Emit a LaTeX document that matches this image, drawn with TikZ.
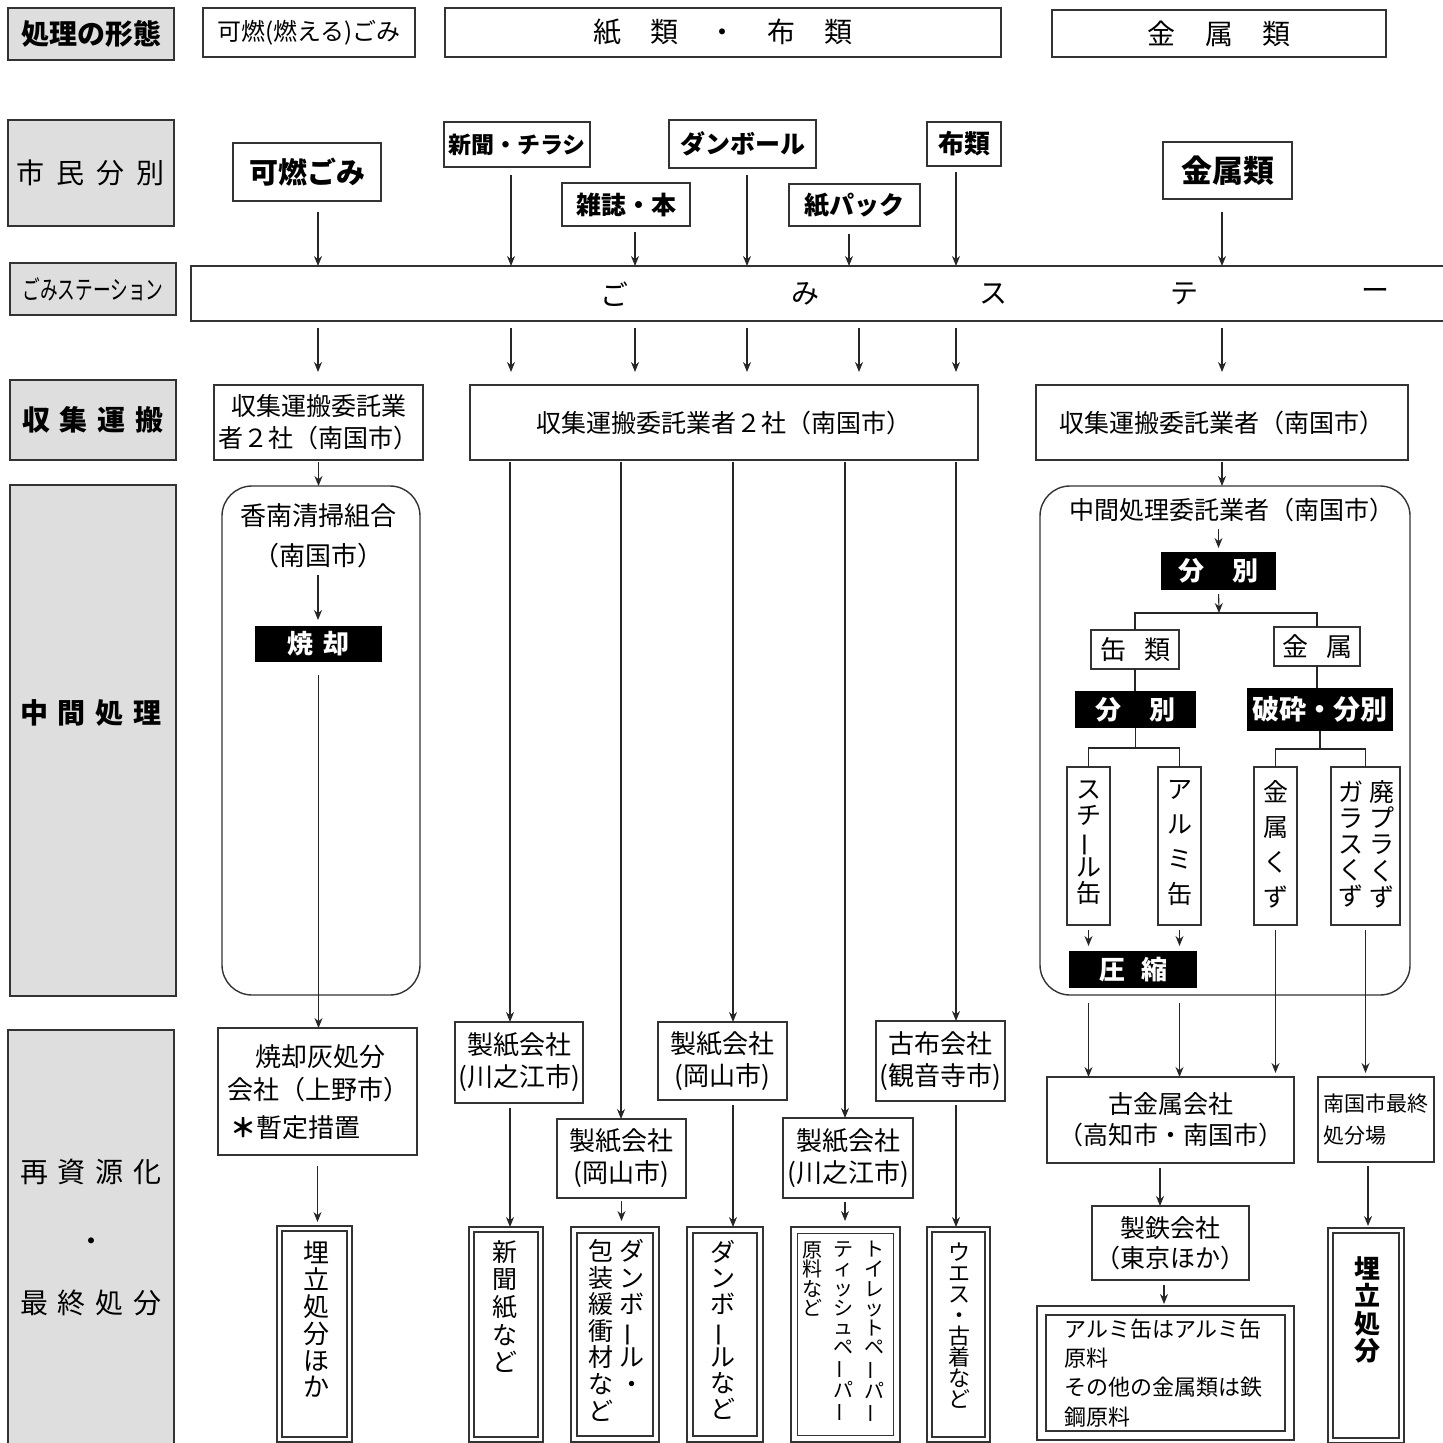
\documentclass[tikz,border=0pt]{standalone}
\usepackage{fontspec}
\usepackage{graphicx}
\setmainfont{Noto Sans CJK JP}
\usetikzlibrary{arrows.meta,calc}
\definecolor{hdrgray}{HTML}{DEDEDE}
\definecolor{edge}{HTML}{333333}
\newcommand\fz[2]{\fontsize{#1}{#2}\selectfont}
\newcommand\gp[1][0.4em]{\hspace{#1}}
\newcommand\vbar{\rotatebox[origin=c]{90}{ー}}
\newcommand\bx[7]{%
 \pgfmathsetmacro\bxw{((#4)-(#2))*0.5}%
 \pgfmathsetmacro\bxh{((#5)-(#3))*0.5}%
 \node[#6,minimum width=\bxw pt,minimum height=\bxh pt,inner sep=0pt,outer sep=0pt] (#1) at ({((#2)+(#4))/2},{((#3)+(#5))/2}) {#7};}
\newcommand\dbx[6]{%
 \bx{#1}{#2}{#3}{#4}{#5}{box}{}%
 \bx{#1i}{(#2)+(#6)}{(#3)+(#6)}{(#4)-(#6)}{(#5)-(#6)}{box}{}}
\begin{document}
\begin{tikzpicture}[x=0.5pt,y=-0.5pt,
  hdr/.style={draw=edge,fill=hdrgray,line width=0.8pt},
  box/.style={draw=edge,line width=0.7pt,align=center},
  blk/.style={fill=black,text=white,font=\fz{13}{15}\bfseries},
  arr/.style={draw=black!85,line width=0.55pt,-{Stealth[length=5pt,width=4pt]}},
  ln/.style={draw=black!85,line width=0.55pt},
  vt/.style={align=center,anchor=north,inner sep=0pt}]
\useasboundingbox (0,0) rectangle (1442,1443);
% ---------- header column ----------
\bx{h1}{8}{8}{174}{60}{hdr,font=\fz{14}{17}\bfseries}{処理の形態}
\bx{h2}{8}{120}{174}{226}{hdr,font=\fz{14}{17}}{市\gp[6pt]民\gp[6pt]分\gp[6pt]別}
\bx{h3}{10}{263}{176}{315}{hdr,font=\fz{13}{15}}{\scalebox{0.68}[1]{ごみステーション}}
\bx{h4}{10}{380}{176}{460}{hdr,font=\fz{14}{17}\bfseries}{収\gp[5pt]集\gp[5pt]運\gp[5pt]搬}
\bx{h5}{10}{485}{176}{996}{hdr}{}
\node[font=\fz{14}{17}\bfseries] (h5a) at (91,713) {中\gp[5pt]間\gp[5pt]処\gp[5pt]理};
\bx{h6}{8}{1030}{174}{1450}{hdr}{}
\node[font=\fz{14}{17}] (h6a) at (91,1172) {再\gp[5pt]資\gp[5pt]源\gp[5pt]化};
\node[font=\fz{14}{17}] (h6b) at (91,1245) {・};
\node[font=\fz{14}{17}] (h6c) at (91,1303) {最\gp[5pt]終\gp[5pt]処\gp[5pt]分};
% ---------- top row ----------
\bx{t1}{203}{8}{415}{57}{box,font=\fz{12}{14}}{可燃(燃える)ごみ}
\bx{t2}{445}{8}{1001}{57}{box,font=\fz{14}{17}}{紙\gp[15pt]類\gp[15pt]・\gp[15pt]布\gp[15pt]類}
\bx{t3}{1052}{10}{1386}{57}{box,font=\fz{14}{17}}{金\gp[15pt]属\gp[15pt]類}
% ---------- citizen sorting ----------
\bx{kanen}{233}{143}{381}{201}{box,font=\fz{14.5}{17}\bfseries}{可燃ごみ}
\bx{shinbun}{444}{122}{590}{167}{box,font=\fz{11.5}{14}\bfseries}{新聞・チラシ}
\bx{zasshi}{562}{183}{690}{226}{box,font=\fz{12.5}{15}\bfseries}{雑誌・本}
\bx{dan}{669}{120}{816}{168}{box,font=\fz{12.5}{15}\bfseries}{ダンボール}
\bx{pack}{789}{184}{920}{226}{box,font=\fz{12.5}{15}\bfseries}{紙パック}
\bx{nuno}{927}{122}{1001}{166}{box,font=\fz{13}{15}\bfseries}{布類}
\bx{kinz}{1163}{142}{1292}{199}{box,font=\fz{15.5}{18}\bfseries}{金属類}
% ---------- station ----------
\bx{st}{191}{266}{1470}{321}{box}{}
\node[font=\fz{14}{17}] (s1) at (614,294) {ご};
\node[font=\fz{14}{17}] (s2) at (805,294) {み};
\node[font=\fz{14}{17}] (s3) at (993,294) {ス};
\node[font=\fz{14}{17}] (s4) at (1184,294) {テ};
\node[font=\fz{14}{17}] (s5) at (1375,294) {ー};
\coordinate (xA) at (318,0);
\coordinate (xB) at (511,0);
\coordinate (xC) at (635,0);
\coordinate (xD) at (747,0);
\coordinate (xE) at (849,0);
\coordinate (xE2) at (859,0);
\coordinate (xF) at (956,0);
\coordinate (xG) at (1222,0);
\draw[arr,shorten <=5.5pt] (xA |- kanen.south) -- (xA |- st.north);
\draw[arr,shorten <=4pt] (xB |- shinbun.south) -- (xB |- st.north);
\draw[arr,shorten <=3pt] (xC |- zasshi.south) -- (xC |- st.north);
\draw[arr,shorten <=3.5pt] (xD |- dan.south) -- (xD |- st.north);
\draw[arr,shorten <=4pt] (xE |- pack.south) -- (xE |- st.north);
\draw[arr,shorten <=3pt] (xF |- nuno.south) -- (xF |- st.north);
\draw[arr,shorten <=6.5pt] (xG |- kinz.south) -- (xG |- st.north);
% ---------- collection ----------
\bx{col1}{214}{385}{423}{460}{box,font=\fz{12.5}{16}}{収集運搬委託業\\者２社（南国市）}
\bx{col2}{470}{385}{978}{460}{box,font=\fz{12.5}{16}}{収集運搬委託業者２社（南国市）}
\bx{col3}{1036}{385}{1408}{460}{box,font=\fz{12.5}{16}}{収集運搬委託業者（南国市）}
\draw[arr,shorten <=3.5pt,shorten >=6.5pt] (xA |- st.south) -- (xA |- col1.north);
\draw[arr,shorten <=3.5pt,shorten >=6.5pt] (xB |- st.south) -- (xB |- col2.north);
\draw[arr,shorten <=3.5pt,shorten >=6.5pt] (xC |- st.south) -- (xC |- col2.north);
\draw[arr,shorten <=3.5pt,shorten >=6.5pt] (xD |- st.south) -- (xD |- col2.north);
\draw[arr,shorten <=3.5pt,shorten >=6.5pt] (xE2 |- st.south) -- (xE2 |- col2.north);
\draw[arr,shorten <=3.5pt,shorten >=6.5pt] (xF |- st.south) -- (xF |- col2.north);
\draw[arr,shorten <=3.5pt,shorten >=6.5pt] (xG |- st.south) -- (xG |- col3.north);
% ---------- left: incineration ----------
\bx{kr}{222}{486}{420}{995}{box,rounded corners=15pt}{}
\node[font=\fz{13}{16}] (kr1) at (318,516) {香南清掃組合};
\node[font=\fz{13}{16}] (kr2) at (318,556) {（南国市）};
\draw[arr,shorten <=1pt] (col1.south) -- (col1.south |- kr.north);
\bx{yaki}{255}{626}{382}{662}{blk}{焼\gp[5pt]却}
\draw[arr,shorten >=3pt] (kr2.south) -- (kr2.south |- yaki.north);
\bx{hai}{218}{1028}{417}{1155}{box}{}
\node[font=\fz{13}{16}] (hai1) at (320,1057) {焼却灰処分};
\node[font=\fz{13}{16}] (hai2) at (318,1090) {会社（上野市）};
\node[font=\fz{13}{16},anchor=west,inner sep=0pt] (hai3) at (230,1128) {\textbf{＊}暫定措置};
\draw[arr,shorten <=6.5pt] (yaki.south) -- (yaki.south |- hai.north);
\dbx{ume1}{277}{1226}{352}{1442}{5}
\node[vt,font=\fz{13}{13.4}] (ume1t) at (316,1241) {埋\\立\\処\\分\\ほ\\か};
\draw[arr,shorten <=5.5pt,shorten >=2pt] (hai.south) -- (hai.south |- ume1.north);
% ---------- paper ----------
\coordinate (k1) at (510,0);
\coordinate (k2) at (621,0);
\coordinate (k3) at (733,0);
\coordinate (k4) at (845,0);
\coordinate (k5) at (956,0);
\bx{p1}{455}{1022}{583}{1103}{box,font=\fz{13}{16}}{製紙会社\\(川之江市)}
\bx{p2}{557}{1119}{686}{1198}{box,font=\fz{13}{16}}{製紙会社\\(岡山市)}
\bx{p3}{658}{1022}{787}{1100}{box,font=\fz{13}{16}}{製紙会社\\(岡山市)}
\bx{p4}{783}{1118}{913}{1198}{box,font=\fz{13}{16}}{製紙会社\\(川之江市)}
\bx{p5}{876}{1021}{1005}{1101}{box,font=\fz{13}{16}}{古布会社\\(観音寺市)}
\draw[arr,shorten <=1pt] (k1 |- col2.south) -- (k1 |- p1.north);
\draw[arr,shorten <=1pt] (k2 |- col2.south) -- (k2 |- p2.north);
\draw[arr,shorten <=1pt] (k3 |- col2.south) -- (k3 |- p3.north);
\draw[arr,shorten <=1pt] (k4 |- col2.south) -- (k4 |- p4.north);
\draw[arr,shorten <=1pt] (k5 |- col2.south) -- (k5 |- p5.north);
\dbx{b1}{469}{1227}{543}{1442}{5}
\dbx{b2}{571}{1227}{659}{1442}{6}
\dbx{b3}{687}{1227}{763}{1442}{6}
\dbx{b4}{791}{1227}{900}{1442}{6.5}
\dbx{b5}{927}{1227}{990}{1442}{5}
\node[vt,font=\fz{12.5}{13.8}] (b1t) at (505,1240) {新\\聞\\紙\\な\\ど};
\node[vt,font=\fz{12.5}{13.3}] (b2t1) at (632,1239) {ダ\\ン\\ボ\\\vbar\\ル\\・};
\node[vt,font=\fz{12.5}{13.3}] (b2t2) at (601,1239) {包\\装\\緩\\衝\\材\\な\\ど};
\node[vt,font=\fz{12.5}{13.1}] (b3t) at (723,1240) {ダ\\ン\\ボ\\\vbar\\ル\\な\\ど};
\node[vt,font=\fz{10}{9.8}] (b4t1) at (874,1241) {ト\\イ\\レ\\ッ\\ト\\ペ\\\vbar\\パ\\\vbar};
\node[vt,font=\fz{10}{9.8}] (b4t2) at (843,1241) {テ\\ィ\\ッ\\シ\\ュ\\ペ\\\vbar\\パ\\\vbar};
\node[vt,font=\fz{10}{9.8}] (b4t3) at (812,1241) {原\\料\\な\\ど};
\node[vt,font=\fz{11}{10.5}] (b5t) at (959,1242) {ウ\\エ\\ス\\・\\古\\着\\な\\ど};
\draw[arr,shorten <=2.5pt] (k1 |- p1.south) -- (k1 |- b1.north);
\draw[arr,shorten <=1.5pt,shorten >=3pt] (p2.south) -- (p2.south |- b2.north);
\draw[arr,shorten <=2.5pt] (k3 |- p3.south) -- (k3 |- b3.north);
\draw[arr,shorten <=2pt,shorten >=3pt] (k4 |- p4.south) -- (k4 |- b4.north);
\draw[arr,shorten <=2pt] (k5 |- p5.south) -- (k5 |- b5.north);
% ---------- metals ----------
\bx{mr}{1040}{486}{1410}{995}{box,rounded corners=15pt}{}
\draw[arr,shorten <=1pt] (col3.south) -- (col3.south |- mr.north);
\node[font=\fz{12.5}{15}] (mr1) at (1232,510) {中間処理委託業者（南国市）};
\bx{bn1}{1161}{552}{1276}{590}{blk}{分\gp[14pt]別}
\draw[arr,shorten >=2pt] (bn1.north |- mr1.south) -- (bn1.north);
\coordinate (fk1) at (1219,613);
\draw[arr,shorten <=2pt] (bn1.south) -- (fk1);
\bx{kan}{1091}{630}{1179}{669}{box,font=\fz{13}{15}}{缶\gp[9pt]類}
\bx{kin}{1274}{627}{1360}{666}{box,font=\fz{13}{15}}{金\gp[9pt]属}
\draw[ln] (kan.north) |- (fk1) -| (kin.north);
\bx{bn2}{1075}{691}{1196}{728}{blk}{分\gp[14pt]別}
\bx{hs}{1247}{688}{1393}{731}{blk,font=\fz{13.5}{16}\bfseries}{破砕・分別}
\draw[ln] (kan.south) -- (kan.south |- bn2.north);
\draw[ln] (kin.south) -- (kin.south |- hs.north);
\coordinate (fk2) at (1135.5,748);
\coordinate (fk3) at (1320,749);
\bx{stl}{1067}{767}{1110}{925}{box}{}
\bx{alu}{1158}{767}{1201}{925}{box}{}
\bx{kz}{1254}{767}{1297}{925}{box}{}
\bx{hp}{1331}{767}{1400}{925}{box}{}
\draw[ln] (bn2.south) -- (fk2);
\draw[ln] (stl.north) |- (fk2) -| (alu.north);
\draw[ln] (hs.south) -- (fk3);
\draw[ln] (kz.north) |- (fk3) -| (hp.north);
\node[vt,font=\fz{12.5}{13.1}] (stlt) at (1089,780) {ス\\チ\\\vbar\\ル\\缶};
\node[vt,font=\fz{12.5}{17.5}] (alut) at (1180,780) {ア\\ル\\ミ\\缶};
\node[vt,font=\fz{12.5}{17.5}] (kzt) at (1276,780) {金\\属\\く\\ず};
\node[vt,font=\fz{12.5}{13.1}] (hpt1) at (1382,780) {廃\\プ\\ラ\\く\\ず};
\node[vt,font=\fz{12.5}{13.1}] (hpt2) at (1351,780) {ガ\\ラ\\ス\\く\\ず};
\bx{ash}{1069}{951}{1197}{988}{blk}{圧\gp[8pt]縮}
\draw[arr,shorten <=2.5pt,shorten >=2.5pt] (stl.south) -- (stl.south |- ash.north);
\draw[arr,shorten <=2.5pt,shorten >=2.5pt] (alu.south) -- (alu.south |- ash.north);
\bx{kk}{1047}{1077}{1294}{1163}{box,font=\fz{12.5}{15.5}}{古金属会社\\（高知市・南国市）}
\bx{sh}{1318}{1077}{1434}{1162}{box,font=\fz{10.5}{16},align=left}{南国市最終\\処分場}
\draw[arr,shorten <=4pt] (stl.south |- mr.south) -- (stl.south |- kk.north);
\draw[arr,shorten <=4pt] (alu.south |- mr.south) -- (alu.south |- kk.north);
\draw[arr,shorten <=2.5pt,shorten >=2pt] (kz.south) -- (kz.south |- kk.north);
\draw[arr,shorten <=2.5pt,shorten >=2pt] (hp.south) -- (hp.south |- sh.north);
\coordinate (xM) at (1160,0);
\coordinate (xN) at (1164,0);
\coordinate (xP) at (1368,0);
\bx{se}{1092}{1206}{1249}{1280}{box,font=\fz{12.5}{15}}{製鉄会社\\（東京ほか）}
\draw[arr,shorten <=2.5pt] (xM |- kk.south) -- (xM |- se.north);
\dbx{fb}{1037}{1306}{1294}{1440}{9}
\node[font=\fz{11}{14.7},align=left,anchor=north west,inner sep=0pt] (fbt) at (1064,1318) {アルミ缶はアルミ缶\\原料\\その他の金属類は鉄\\鋼原料};
\draw[arr,shorten <=2.5pt,shorten >=1pt] (xN |- se.south) -- (xN |- fb.north);
\dbx{ume2}{1328}{1228}{1404}{1443}{5}
\node[vt,font=\fz{13}{13.7}\bfseries] (ume2t) at (1367,1256) {埋\\立\\処\\分};
\draw[arr,shorten <=2pt,shorten >=1pt] (xP |- sh.south) -- (xP |- ume2.north);
\end{tikzpicture}
\end{document}
